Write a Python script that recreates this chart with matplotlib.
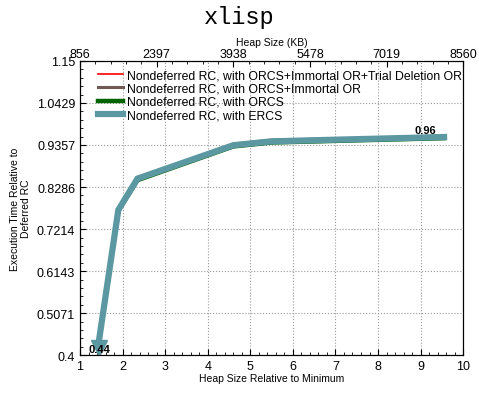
import matplotlib
matplotlib.use("Agg")
import matplotlib.pyplot as plt
from matplotlib.ticker import AutoMinorLocator

# heap size relative to minimum, and execution time relative to deferred RC
heap_rel = [1.45, 1.9, 2.35, 4.6, 5.5, 7.3, 9.55]
trial_del = [0.44, 0.772, 0.852, 0.938, 0.948, 0.952, 0.959]
immortal = [0.44, 0.772, 0.852, 0.938, 0.948, 0.952, 0.959]
orcs = [0.44, 0.768, 0.846, 0.932, 0.942, 0.947, 0.953]
ercs = [0.44, 0.770, 0.850, 0.935, 0.945, 0.950, 0.956]

series = [
    ("Nondeferred RC, with ORCS+Immortal OR+Trial Deletion OR", trial_del, "#ff0000", 1.2),
    ("Nondeferred RC, with ORCS+Immortal OR", immortal, "#6e5a52", 2.2),
    ("Nondeferred RC, with ORCS", orcs, "#006400", 3.2),
    ("Nondeferred RC, with ERCS", ercs, "#5b98a2", 4.5),
]

y_ticks = [0.4, 0.5071, 0.6143, 0.7214, 0.8286, 0.9357, 1.0429, 1.15]
y_labels = ["0.4", "0.5071", "0.6143", "0.7214", "0.8286", "0.9357", "1.0429", "1.15"]
top_pos = [1, 2.8, 4.6, 6.4, 8.2, 10]
top_labels = ["856", "2397", "3938", "5478", "7019", "8560"]

plt.rcParams['font.family'] = ['Liberation Sans', 'DejaVu Sans']

fig = plt.figure(figsize=(4.79, 4.02), dpi=100)
ax = fig.add_axes([0.167, 0.114, 0.8, 0.732])

for name, vals, color, lw in series:
    ax.plot(heap_rel, vals, color=color, lw=lw, label=name, solid_joinstyle='miter')

# arrow head at the low first point
ax.plot([heap_rel[0]], [ercs[0] - 0.022], marker='v', ms=12, color="#5b98a2", ls='none')
ax.text(heap_rel[0], 0.402, "0.44", fontsize=8, fontweight='bold', ha='center', va='bottom')
ax.text(9.1, 0.962, "0.96", fontsize=8, fontweight='bold', ha='center', va='bottom')

ax.set_xlim(1, 10)
ax.set_ylim(0.4, 1.15)
ax.set_xticks(range(1, 11))
ax.set_yticks(y_ticks)
ax.set_yticklabels(y_labels)
ax.tick_params(labelsize=9, direction='in', length=4)
ax.xaxis.set_minor_locator(AutoMinorLocator(5))
ax.yaxis.set_minor_locator(AutoMinorLocator(5))
ax.tick_params(which='minor', direction='in', length=2)
ax.grid(True, ls=':', color='#999999', lw=0.8)
ax.set_xlabel("Heap Size Relative to Minimum", fontsize=7.5, labelpad=1)
ax.set_ylabel("Execution Time Relative to\nDeferred RC", fontsize=7.5)

top = ax.twiny()
top.set_xlim(1, 10)
top.set_xticks(top_pos)
top.set_xticklabels(top_labels)
top.tick_params(labelsize=9, direction='in', length=4, pad=1)
top.xaxis.set_minor_locator(AutoMinorLocator(5))
top.tick_params(which='minor', direction='in', length=2)
top.set_xlabel("Heap Size (KB)", fontsize=7.5, labelpad=2)

ax.legend(loc='upper left', frameon=False, fontsize=8.8, handlelength=2.05,
          bbox_to_anchor=(0.025, 1.0), borderaxespad=0.3, labelspacing=0.1,
          handletextpad=0.3)

fig.suptitle("xlisp", fontsize=17, family='Liberation Mono', y=0.985)

fig.savefig("out.png", dpi=100)
